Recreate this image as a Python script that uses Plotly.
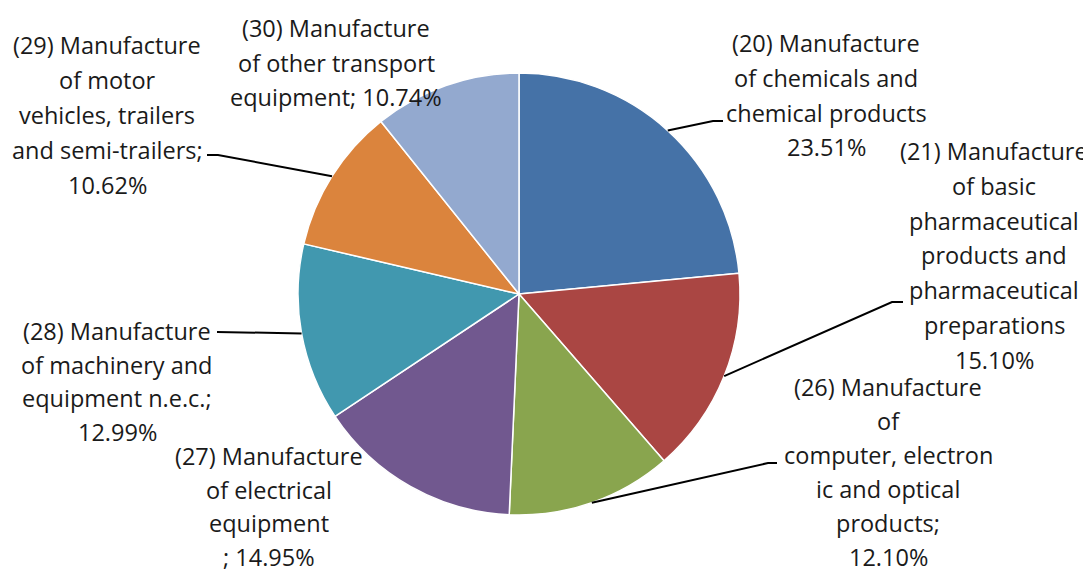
import math
import plotly.graph_objects as go

# ---- data ----
categories = [
    "(20) Manufacture of chemicals and chemical products",
    "(21) Manufacture of basic pharmaceutical products and pharmaceutical preparations",
    "(26) Manufacture of computer, electronic and optical products",
    "(27) Manufacture of electrical equipment",
    "(28) Manufacture of machinery and equipment n.e.c.",
    "(29) Manufacture of motor vehicles, trailers and semi-trailers",
    "(30) Manufacture of other transport equipment",
]
values = [23.51, 15.10, 12.10, 14.95, 12.99, 10.62, 10.74]
label_templates = [
    "(20) Manufacture\nof chemicals and\nchemical products\n{p}",
    "(21) Manufacture\nof basic\npharmaceutical\nproducts and\npharmaceutical\npreparations\n{p}",
    "(26) Manufacture\nof\ncomputer, electron\nic and optical\nproducts;\n{p}",
    "(27) Manufacture\nof electrical\nequipment\n; {p}",
    "(28) Manufacture\nof machinery and\nequipment n.e.c.;\n{p}",
    "(29) Manufacture\nof motor\nvehicles, trailers\nand semi-trailers;\n{p}",
    "(30) Manufacture\nof other transport\nequipment; {p}",
]
colors = ["#4572A7", "#AA4643", "#89A54E", "#71588F", "#4198AF", "#DB843D", "#93A9CF"]

# ---- layout (reference-picture pixels) ----
PAGE_W, PAGE_H = 1091, 574
OFF = 8  # browser default body margin
W, H = PAGE_W - OFF, PAGE_H - OFF
CX, CY, R = 519, 294, 221
# label block: centre x, first-line y, line spacing
label_pos = [(826, 43, 34.8), (994, 151, 34.8), (888, 387, 34.0), (269, 456, 33.7),
             (117, 331, 33.5), (107, 45, 35.0), (336, 28, 34.5)]
leader_elbows = [
    [(713, 121), (723, 121)],
    [(892, 302), (903, 302)],
    [(768, 463), (777, 463)],
    None,
    [(217, 332)],
    [(218, 155), (207, 155)],
    None,
]


def px(x):
    return (x - OFF) / W


def py(y):
    return 1 - (y - OFF) / H


fig = go.Figure()
fig.add_trace(go.Pie(
    labels=categories,
    values=values,
    sort=False,
    direction="clockwise",
    rotation=0,
    textinfo="none",
    hoverinfo="label+percent",
    marker=dict(colors=colors, line=dict(color="white", width=1.5)),
    domain=dict(x=[px(CX - R), px(CX + R)], y=[py(CY + R), py(CY - R)]),
    showlegend=False,
))

annotations = []
shapes = []
total = sum(values)
cum = 0.0
for i, v in enumerate(values):
    mid = (cum + v / 2) / total * 2 * math.pi
    cum += v
    text = label_templates[i].format(p=f"{v:.2f}%")
    lx, ly, lh = label_pos[i]
    for j, line in enumerate(text.split("\n")):
        annotations.append(dict(
            x=px(lx), y=py(ly + j * lh), xref="paper", yref="paper",
            text=line, showarrow=False, xanchor="center", yanchor="middle",
            font=dict(family="'Open Sans', sans-serif", size=23.5, color="#1a1a1a"),
        ))
    if leader_elbows[i]:
        sx = CX + R * math.sin(mid)
        sy = CY - R * math.cos(mid)
        pts = [(sx, sy)] + leader_elbows[i]
        path = "M " + " L ".join(f"{px(x):.5f} {py(y):.5f}" for x, y in pts)
        shapes.append(dict(type="path", path=path, xref="paper", yref="paper",
                           line=dict(color="black", width=2)))

fig.update_layout(
    width=W, height=H,
    margin=dict(l=0, r=0, t=0, b=0),
    paper_bgcolor="white", plot_bgcolor="white",
    annotations=annotations, shapes=shapes,
)
fig.write_html("out.html")
